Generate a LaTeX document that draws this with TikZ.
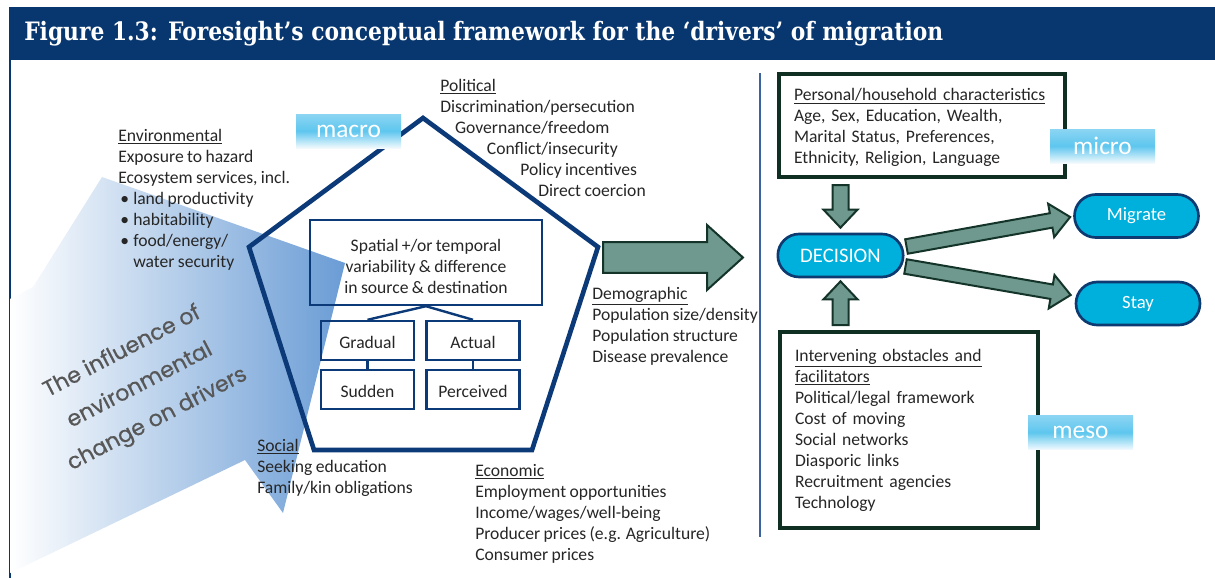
\documentclass[tikz,border=0pt]{standalone}
\usepackage{fontspec}
\setmainfont{Carlito}[WordSpace=0.85]
\newfontfamily\titlefont{DejaVu Serif}[FakeStretch=0.86]
\newfontfamily\inflfont{Poppins}[FakeBold=0.6]
\usetikzlibrary{calc}

\definecolor{titleblue}{HTML}{08376F}
\definecolor{pentblue}{HTML}{0C3A78}
\definecolor{txtgray}{HTML}{262626}
\definecolor{envblue}{HTML}{6A9CD5}
\definecolor{inflgray}{HTML}{575757}
\definecolor{arrowfill}{HTML}{6F998E}
\definecolor{arrowline}{HTML}{14342A}
\definecolor{boxgreen}{HTML}{0F2F22}
\definecolor{pillcyan}{HTML}{00B0DC}
\definecolor{pillline}{HTML}{0D3A70}
\definecolor{sepblue}{HTML}{3B63A0}
\definecolor{labtop}{HTML}{8CD5F3}
\definecolor{labmid}{HTML}{5EC6EE}
\definecolor{labbot}{HTML}{F2FAFE}

\newcommand{\bodyfont}{\fontsize{13.2}{15.75}\selectfont}
\newcommand{\blt}{\makebox[11.25pt][l]{\hspace{1.5pt}\textbullet}}
\newcommand{\fatarrow}[5]{%
  \coordinate (fab) at ($(#2)!#5!(#1)$);
  \filldraw[fatline] ($(#1)!#3!90:(#2)$) -- ($(fab)!#3!90:(#2)$) -- ($(fab)!#4!90:(#2)$) -- (#2) -- ($(fab)!#4!-90:(#2)$) -- ($(fab)!#3!-90:(#2)$) -- ($(#1)!#3!-90:(#2)$) -- cycle;}

\begin{document}
\begin{tikzpicture}[x=0.75pt,y=-0.75pt,
  txt/.style={anchor=north west,inner sep=0pt,align=left,text=txtgray,font=\bodyfont},
  ibox/.style={draw=pentblue,line width=1.8pt,align=center,text=txtgray,font=\bodyfont},
  infobox/.style={draw=boxgreen,line width=3pt,inner xsep=11.25pt,align=left,text=txtgray,font=\bodyfont},
  pill/.style={draw=pillline,line width=2pt,fill=pillcyan,rounded corners=16pt,text=white,font=\fontsize{14}{16}\selectfont,minimum width=93pt,minimum height=32.25pt},
  scalelab/.style={shade,top color=labtop,bottom color=labbot,middle color=labmid,text=white,font=\fontsize{19}{20}\selectfont,minimum width=78.75pt,minimum height=25.5pt},
  fatline/.style={fill=arrowfill,draw=arrowline,line width=1.5pt,line join=miter}]
\useasboundingbox (0,0) rectangle (1215,578);

\fill[titleblue] (9,7) rectangle (1215,60);
\node[anchor=west,inner sep=0pt,text=white,font=\titlefont\bfseries\fontsize{19}{21}\selectfont] (title) at (24,34) {Figure 1.3: Foresight’s conceptual framework for the ‘drivers’ of migration};
\draw[titleblue,line width=1.5pt] (10,60) -- (10,578);

\shade[left color=white,right color=envblue] (10,299) -- (33,287) -- (102,177) -- (345,263) -- (283,513) -- (245,460) -- (31,563) -- (10,573) -- cycle;
\node[rotate=27.5,align=center,text=inflgray,font=\inflfont\fontsize{16.5}{28.5}\selectfont] (infl) at (140,386) {The influence of\\environmental\\change on drivers};

\node[txt] (env) at (118,129) {\underline{Environmental}\\Exposure to hazard\\Ecosystem services, incl.\\\blt land productivity\\\blt habitability\\\blt food/energy/\\\hspace*{11.25pt}water security};
\node[txt] (polit) at (440,79) {\underline{Political}\\Discrimination/persecution\\\hspace*{11.1pt}Governance/freedom\\\hspace*{35pt}Conflict/insecurity\\\hspace*{60pt}Policy incentives\\\hspace*{73.5pt}Direct coercion};
\node[txt] (demog) at (592,287) {\underline{Demographic}\\Population size/density\\Population structure\\Disease prevalence};
\node[txt] (social) at (257,439) {\underline{Social}\\Seeking education\\Family/kin obligations};
\node[txt] (econ) at (475,464) {\underline{Economic}\\Employment opportunities\\Income/wages/well-being\\Producer prices (e.g. Agriculture)\\Consumer prices};

\draw[pentblue,line width=3.5pt,line join=miter] (423,118) -- (598,247) -- (532,450) -- (314,450) -- (249,247) -- cycle;

\node[ibox,minimum width=174pt,minimum height=63.75pt] (spatial) at (426,262.5) {\rule{0pt}{14.5pt}Spatial +/or temporal\\variability \& difference\\in source \& destination};
\node[ibox,minimum width=70pt,minimum height=29.25pt] (gradual) at (367.5,340.5) {\rule{0pt}{12pt}Gradual};
\node[ibox,minimum width=70pt,minimum height=29.25pt] (actual) at (473,340.5) {\rule{0pt}{12pt}Actual};
\node[ibox,minimum width=70pt,minimum height=29.25pt] (sudden) at (367.5,389.5) {\rule{0pt}{12pt}Sudden};
\node[ibox,minimum width=70pt,minimum height=29.25pt] (perceived) at (473,389.5) {\rule{0pt}{12pt}Perceived};
\draw[pentblue,line width=1.8pt] (spatial.south) -- (gradual.north);
\draw[pentblue,line width=1.8pt] (spatial.south) -- (actual.north);
\draw[pentblue,line width=1.8pt] (gradual.south) -- (sudden.north);
\draw[pentblue,line width=1.8pt] (actual.south) -- (perceived.north);

\node[scalelab] (lmacro) at (348.5,131) {macro};

\coordinate (dstart) at (603,257.5);
\coordinate (dtip) at (743,257.5);
\fatarrow{dstart}{dtip}{11.6pt}{24.4pt}{27pt}

\draw[sepblue,line width=1pt] (760,73) -- (760,537);

\node[infobox,text width=192pt,minimum height=77.25pt] (personal) at (922,125.5) {\rule{0pt}{12.5pt}\underline{Personal/household characteristics}\\Age, Sex, Education, Wealth,\\Marital Status, Preferences,\\Ethnicity, Religion, Language};
\node[infobox,text width=171pt,minimum height=147pt] (obstacles) at (909,430) {\underline{Intervening obstacles and}\\\underline{facilitators}\\Political/legal framework\\Cost of moving\\Social networks\\Diasporic links\\Recruitment agencies\\Technology};

\node[pill,minimum width=94pt,font=\fontsize{15.5}{17}\selectfont] (decision) at (840.5,255.5) {DECISION};
\node[pill] (migrate) at (1136.5,216) {Migrate};
\node[pill] (stay) at (1138,303.5) {Stay};

\coordinate (pdown) at ($(personal.south -| decision.north)+(0,6)$);
\coordinate (dtop) at ($(decision.north)+(0,-5)$);
\coordinate (oup) at ($(obstacles.north -| decision.south)+(0,-5)$);
\coordinate (dbot) at ($(decision.south)+(0,3)$);
\coordinate (dmig) at ($(decision.east)+(2,-9)$);
\coordinate (mtip) at ($(migrate.west)+(-3,1)$);
\coordinate (dstay) at ($(decision.east)+(1,11)$);
\coordinate (stip) at ($(stay.west)+(-4,-8.5)$);
\fatarrow{pdown}{dtop}{6pt}{12.75pt}{13.5pt}
\fatarrow{oup}{dbot}{6pt}{12.75pt}{13.5pt}
\fatarrow{dmig}{mtip}{5.5pt}{12.75pt}{14.5pt}
\fatarrow{dstay}{stip}{5.5pt}{12.75pt}{14.5pt}

\node[scalelab] (lmicro) at (1102.5,146) {micro};
\node[scalelab] (lmeso) at (1080.5,432.5) {meso};
\end{tikzpicture}
\end{document}
